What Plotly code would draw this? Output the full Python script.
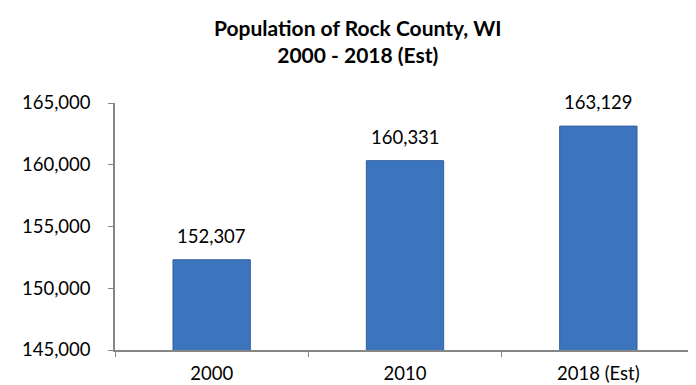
import plotly.graph_objects as go

categories = ["2000", "2010", "2018 (Est)"]
population = [152307, 160331, 163129]
y_ticks = [145000, 150000, 155000, 160000, 165000]
title_lines = ["Population of Rock County, WI", "2000 - 2018 (Est)"]

FONT = "Lato"

fig = go.Figure()
fig.add_trace(go.Bar(
    x=categories,
    y=population,
    marker=dict(color="#3C74BE", line=dict(color="#2F5E9F", width=1)),
    hoverinfo="skip",
))

for i, v in enumerate(population):
    fig.add_annotation(
        x=i, y=v, text=f"{v:,}", showarrow=False,
        yanchor="middle", yshift=24,
        font=dict(family=FONT, size=18.5, color="#000000"),
    )

fig.add_annotation(
    xref="paper", yref="paper", x=0.419, y=1.25,
    text="<b>" + "<br>".join(title_lines) + "</b>", showarrow=False,
    xanchor="center", yanchor="middle", align="center",
    font=dict(family=FONT, size=21, color="#000000"),
)

fig.update_layout(
    width=696, height=385,
    margin=dict(l=107, r=9, t=95, b=38),
    paper_bgcolor="white", plot_bgcolor="white",
    showlegend=False,
    bargap=0.6,
    font=dict(family=FONT, size=18.5, color="#000000"),
)
fig.update_xaxes(
    type="category", categoryorder="array", categoryarray=categories,
    range=[-0.5, len(categories) - 0.5],
    showline=True, linecolor="#868686", linewidth=1.5,
    ticks="outside", tickson="boundaries", ticklen=5, tickcolor="#868686",
    ticklabelstandoff=6,
    tickfont=dict(family=FONT, size=18.5, color="#000000"),
    showgrid=False, fixedrange=True,
)
fig.update_yaxes(
    range=[145000, 165000], tickvals=y_ticks, tickformat=",",
    showline=True, linecolor="#868686", linewidth=1.5,
    ticks="outside", ticklen=5, tickcolor="#868686",
    ticklabelstandoff=14,
    tickfont=dict(family=FONT, size=18.5, color="#000000"),
    showgrid=False, zeroline=False, fixedrange=True,
)

fig.write_html("out.html")
